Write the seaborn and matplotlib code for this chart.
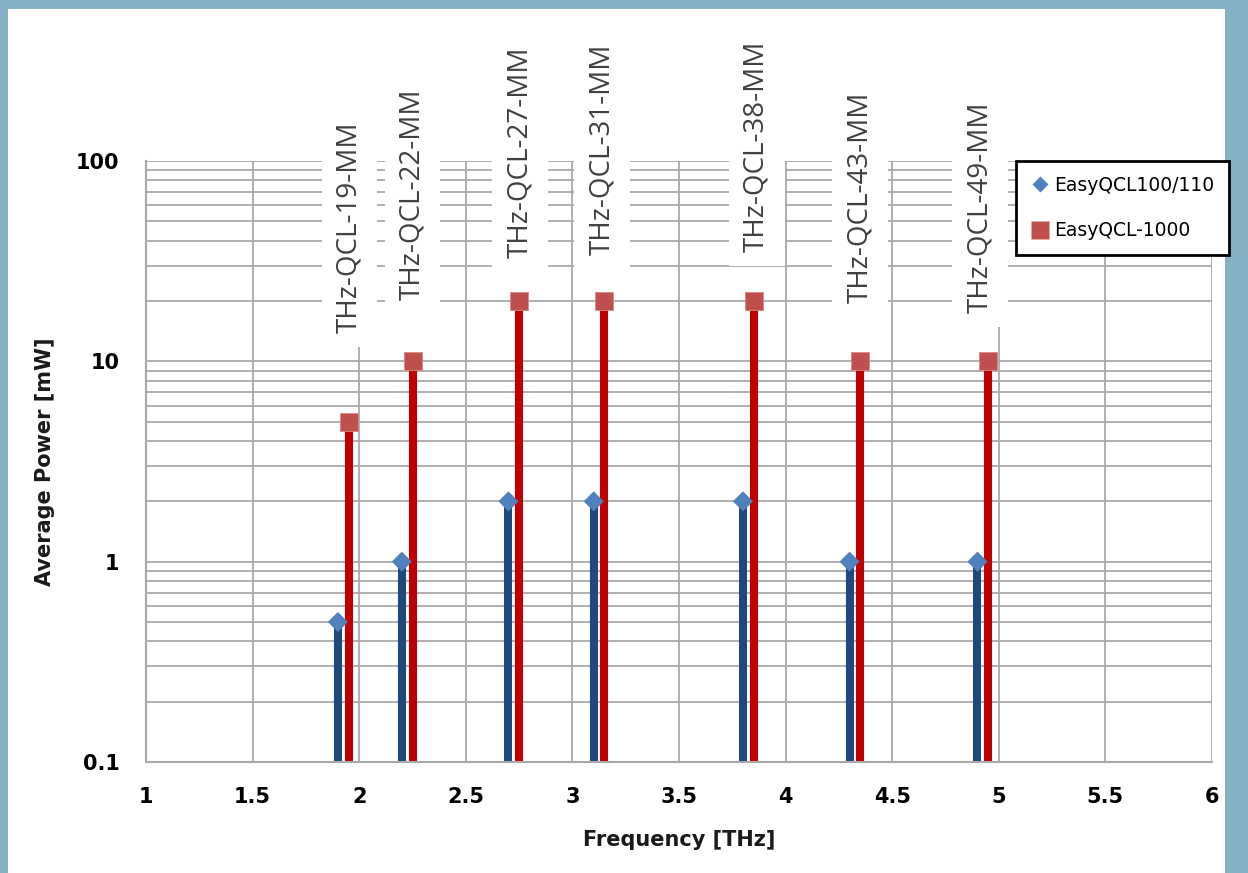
import matplotlib
matplotlib.use("Agg")
import matplotlib.pyplot as plt
import matplotlib.patches as mpatches
from matplotlib.lines import Line2D
from matplotlib.ticker import FixedLocator, LogLocator, NullFormatter
import numpy as np
import pandas as pd
import seaborn as sns

# values
FREQ_100 = [1.90, 2.20, 2.70, 3.10, 3.80, 4.30, 4.90]
POWER_100 = [0.5, 1, 2, 2, 2, 1, 1]
FREQ_1000 = [1.95, 2.25, 2.75, 3.15, 3.85, 4.35, 4.95]
POWER_1000 = [5, 10, 20, 20, 20, 10, 10]
MODELS = ["THz-QCL-19-MM", "THz-QCL-22-MM", "THz-QCL-27-MM", "THz-QCL-31-MM",
          "THz-QCL-38-MM", "THz-QCL-43-MM", "THz-QCL-49-MM"]
SERIES = ["EasyQCL100/110", "EasyQCL-1000"]
X_TICKS = [1, 1.5, 2, 2.5, 3, 3.5, 4, 4.5, 5, 5.5, 6]
X_TICK_LABELS = ["1", "1.5", "2", "2.5", "3", "3.5", "4", "4.5", "5", "5.5", "6"]
Y_TICKS = [0.1, 1, 10, 100]
Y_TICK_LABELS = ["0.1", "1", "10", "100"]

# label placement above the red points, in pixels (like Excel's data labels)
LABEL_DX = [1, 0, 1, -2, 3, 0, -8]
LABEL_DY = [89, 61, 43, 46, 49, 58, 48]

STEM_COLORS = {"EasyQCL100/110": "#1F497D", "EasyQCL-1000": "#C00000"}
MARK_COLORS = {"EasyQCL100/110": "#4F81BD", "EasyQCL-1000": "#C0504D"}
GRID = "#a9a9a9"


def main() -> None:
    sns.set_theme(style="white")
    plt.rcParams["font.family"] = ["DejaVu Sans"]

    df = pd.concat([
        pd.DataFrame({"freq": FREQ_100, "power": POWER_100, "series": SERIES[0]}),
        pd.DataFrame({"freq": FREQ_1000, "power": POWER_1000, "series": SERIES[1]}),
    ], ignore_index=True)

    fig = plt.figure(figsize=(12.48, 8.73), dpi=100)
    fig.patch.set_facecolor("#85B1C5")
    fig.patches.append(mpatches.Rectangle(
        (8 / 1248, 0), (1225 - 8) / 1248, 1 - 9 / 873,
        transform=fig.transFigure, facecolor="white", edgecolor="none", zorder=-5))

    ax = fig.add_axes([146 / 1248, 1 - 762 / 873, (1212 - 146) / 1248, (762 - 161) / 873])
    ax.set_facecolor("none")
    ax.set_yscale("log")
    ax.set_xlim(1, 6)
    ax.set_ylim(0.1, 100)

    # stems from the floor of the axis up to each value
    for name in SERIES:
        sub = df[df["series"] == name]
        ax.vlines(sub["freq"], 0.1, sub["power"], colors=STEM_COLORS[name],
                  linewidth=5.8, zorder=2)

    sns.scatterplot(data=df[df["series"] == SERIES[0]], x="freq", y="power",
                    marker="D", color=MARK_COLORS[SERIES[0]], s=105,
                    edgecolor="none", zorder=4, legend=False, ax=ax)
    sns.scatterplot(data=df[df["series"] == SERIES[1]], x="freq", y="power",
                    marker="s", color=MARK_COLORS[SERIES[1]], s=175,
                    edgecolor="#d98a88", linewidth=0.6, zorder=4, legend=False, ax=ax)

    # grid
    ax.xaxis.set_major_locator(FixedLocator(X_TICKS))
    ax.set_xticklabels(X_TICK_LABELS)
    ax.yaxis.set_major_locator(FixedLocator(Y_TICKS))
    ax.set_yticklabels(Y_TICK_LABELS)
    ax.yaxis.set_minor_locator(LogLocator(base=10, subs=np.arange(2, 10)))
    ax.yaxis.set_minor_formatter(NullFormatter())
    ax.grid(True, which="major", axis="both", color=GRID, linewidth=1.3)
    ax.grid(True, which="minor", axis="y", color=GRID, linewidth=1.3)
    ax.set_axisbelow(True)

    for side in ["top", "right"]:
        ax.spines[side].set_visible(False)
    for side in ["left", "bottom"]:
        ax.spines[side].set_color(GRID)
        ax.spines[side].set_linewidth(1.5)

    ax.tick_params(axis="both", which="major", direction="out", length=7, width=1.3,
                   color=GRID, labelsize=15, labelcolor="black", pad=11)
    ax.tick_params(axis="y", which="minor", length=0)
    ax.tick_params(axis="y", which="major", pad=12)
    for lab in ax.get_xticklabels() + ax.get_yticklabels():
        lab.set_fontweight("bold")

    ax.set_xlabel("Frequency [THz]", fontsize=15, fontweight="bold", color="#1a1a1a")
    ax.set_ylabel("Average Power [mW]", fontsize=15, fontweight="bold", color="#1a1a1a")
    ax.xaxis.set_label_coords(0.5, -0.113)
    ax.yaxis.set_label_coords(-0.0854, 0.5)

    # model names as data labels above the red points
    for x, y, name, dx, dy in zip(FREQ_1000, POWER_1000, MODELS, LABEL_DX, LABEL_DY):
        ax.annotate(name, xy=(x, y), xytext=(dx, dy), textcoords="offset pixels",
                    rotation=90, ha="center", va="bottom", fontsize=20,
                    family=["Open Sans", "DejaVu Sans"], color="#404040",
                    annotation_clip=False, zorder=3,
                    bbox=dict(boxstyle="square,pad=0.5", facecolor="white", edgecolor="none"))

    handles = [
        Line2D([], [], linestyle="none", marker="D", markersize=8,
               markerfacecolor=MARK_COLORS[SERIES[0]], markeredgecolor="none"),
        Line2D([], [], linestyle="none", marker="s", markersize=13,
               markerfacecolor=MARK_COLORS[SERIES[1]], markeredgecolor="none"),
    ]
    leg = fig.legend(handles, SERIES, loc="upper right",
                     bbox_to_anchor=(1229 / 1248, 1 - 161 / 873), frameon=True,
                     fancybox=False, framealpha=1, fontsize=13.5, handlelength=0.9,
                     handletextpad=0.3, labelspacing=1.4, borderpad=0.8, borderaxespad=0)
    leg.get_frame().set_edgecolor("black")
    leg.get_frame().set_linewidth(2)
    for t in leg.get_texts():
        t.set_color("black")
    leg.set_zorder(5)

    fig.savefig("out.png", dpi=100, facecolor=fig.get_facecolor())
    plt.close(fig)


if __name__ == "__main__":
    main()
